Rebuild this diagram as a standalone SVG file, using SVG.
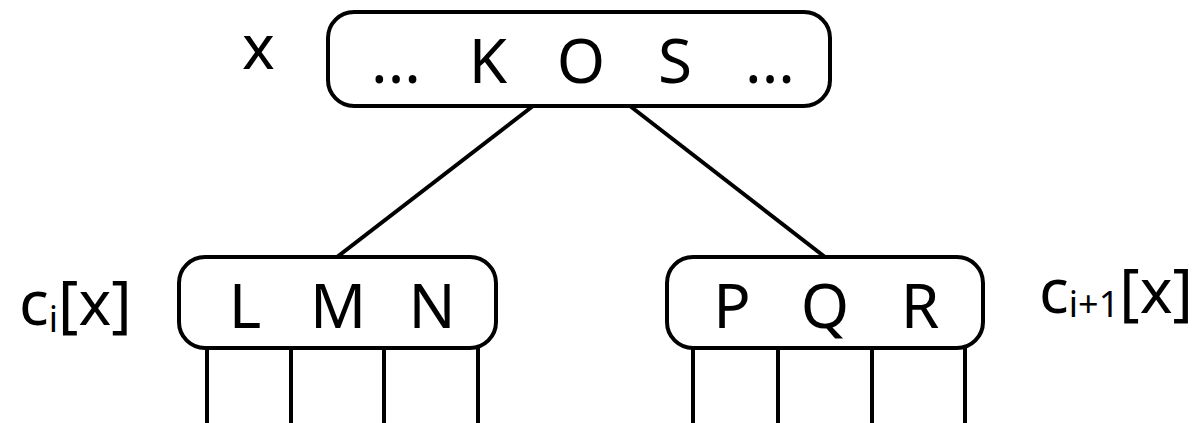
<svg xmlns="http://www.w3.org/2000/svg" width="1196" height="423" viewBox="0 0 1196 423">
<style>
.node{fill:#fff;stroke:#000;stroke-width:4}
.edge{stroke:#000;stroke-width:4;fill:none}
text{font-family:"Noto Sans","Open Sans",sans-serif;font-size:62px;fill:#000}
.k{text-anchor:middle}
.sub{font-size:36px}
</style>
<rect width="1196" height="423" fill="#fff"/>
<g id="connectors">
<line class="edge" x1="533" y1="106" x2="337" y2="257"/>
<line class="edge" x1="630" y1="106" x2="825" y2="257"/>
<line class="edge" x1="207" y1="348" x2="207" y2="423"/>
<line class="edge" x1="291" y1="348" x2="291" y2="423"/>
<line class="edge" x1="384" y1="348" x2="384" y2="423"/>
<line class="edge" x1="478" y1="348" x2="478" y2="423"/>
<line class="edge" x1="693" y1="348" x2="693" y2="423"/>
<line class="edge" x1="778" y1="348" x2="778" y2="423"/>
<line class="edge" x1="872" y1="348" x2="872" y2="423"/>
<line class="edge" x1="965" y1="348" x2="965" y2="423"/>
</g>
<g id="root">
<rect class="node" x="328" y="12" width="502" height="94" rx="26"/>
<text class="k" x="396" y="83">...</text>
<text class="k" x="488" y="83">K</text>
<text class="k" x="581" y="83">O</text>
<text class="k" x="675" y="83">S</text>
<text class="k" x="770" y="83">...</text>
</g>
<g id="label-x">
<text x="242" y="69">x</text>
</g>
<g id="left-child">
<rect class="node" x="179" y="257" width="317" height="91" rx="26"/>
<text class="k" x="245" y="328">L</text>
<text class="k" x="338" y="328">M</text>
<text class="k" x="432" y="328">N</text>
</g>
<g id="right-child">
<rect class="node" x="667" y="257" width="316" height="91" rx="26"/>
<text class="k" x="732" y="328">P</text>
<text class="k" x="825" y="328">Q</text>
<text class="k" x="920" y="328">R</text>
</g>
<g id="label-ci">
<text x="19" y="325">c<tspan class="sub" dy="7">i</tspan><tspan dy="-7">[x]</tspan></text>
</g>
<g id="label-ci1">
<text x="1039" y="313">c<tspan class="sub" dy="4">i+1</tspan><tspan dy="-4">[x]</tspan></text>
</g>
</svg>
